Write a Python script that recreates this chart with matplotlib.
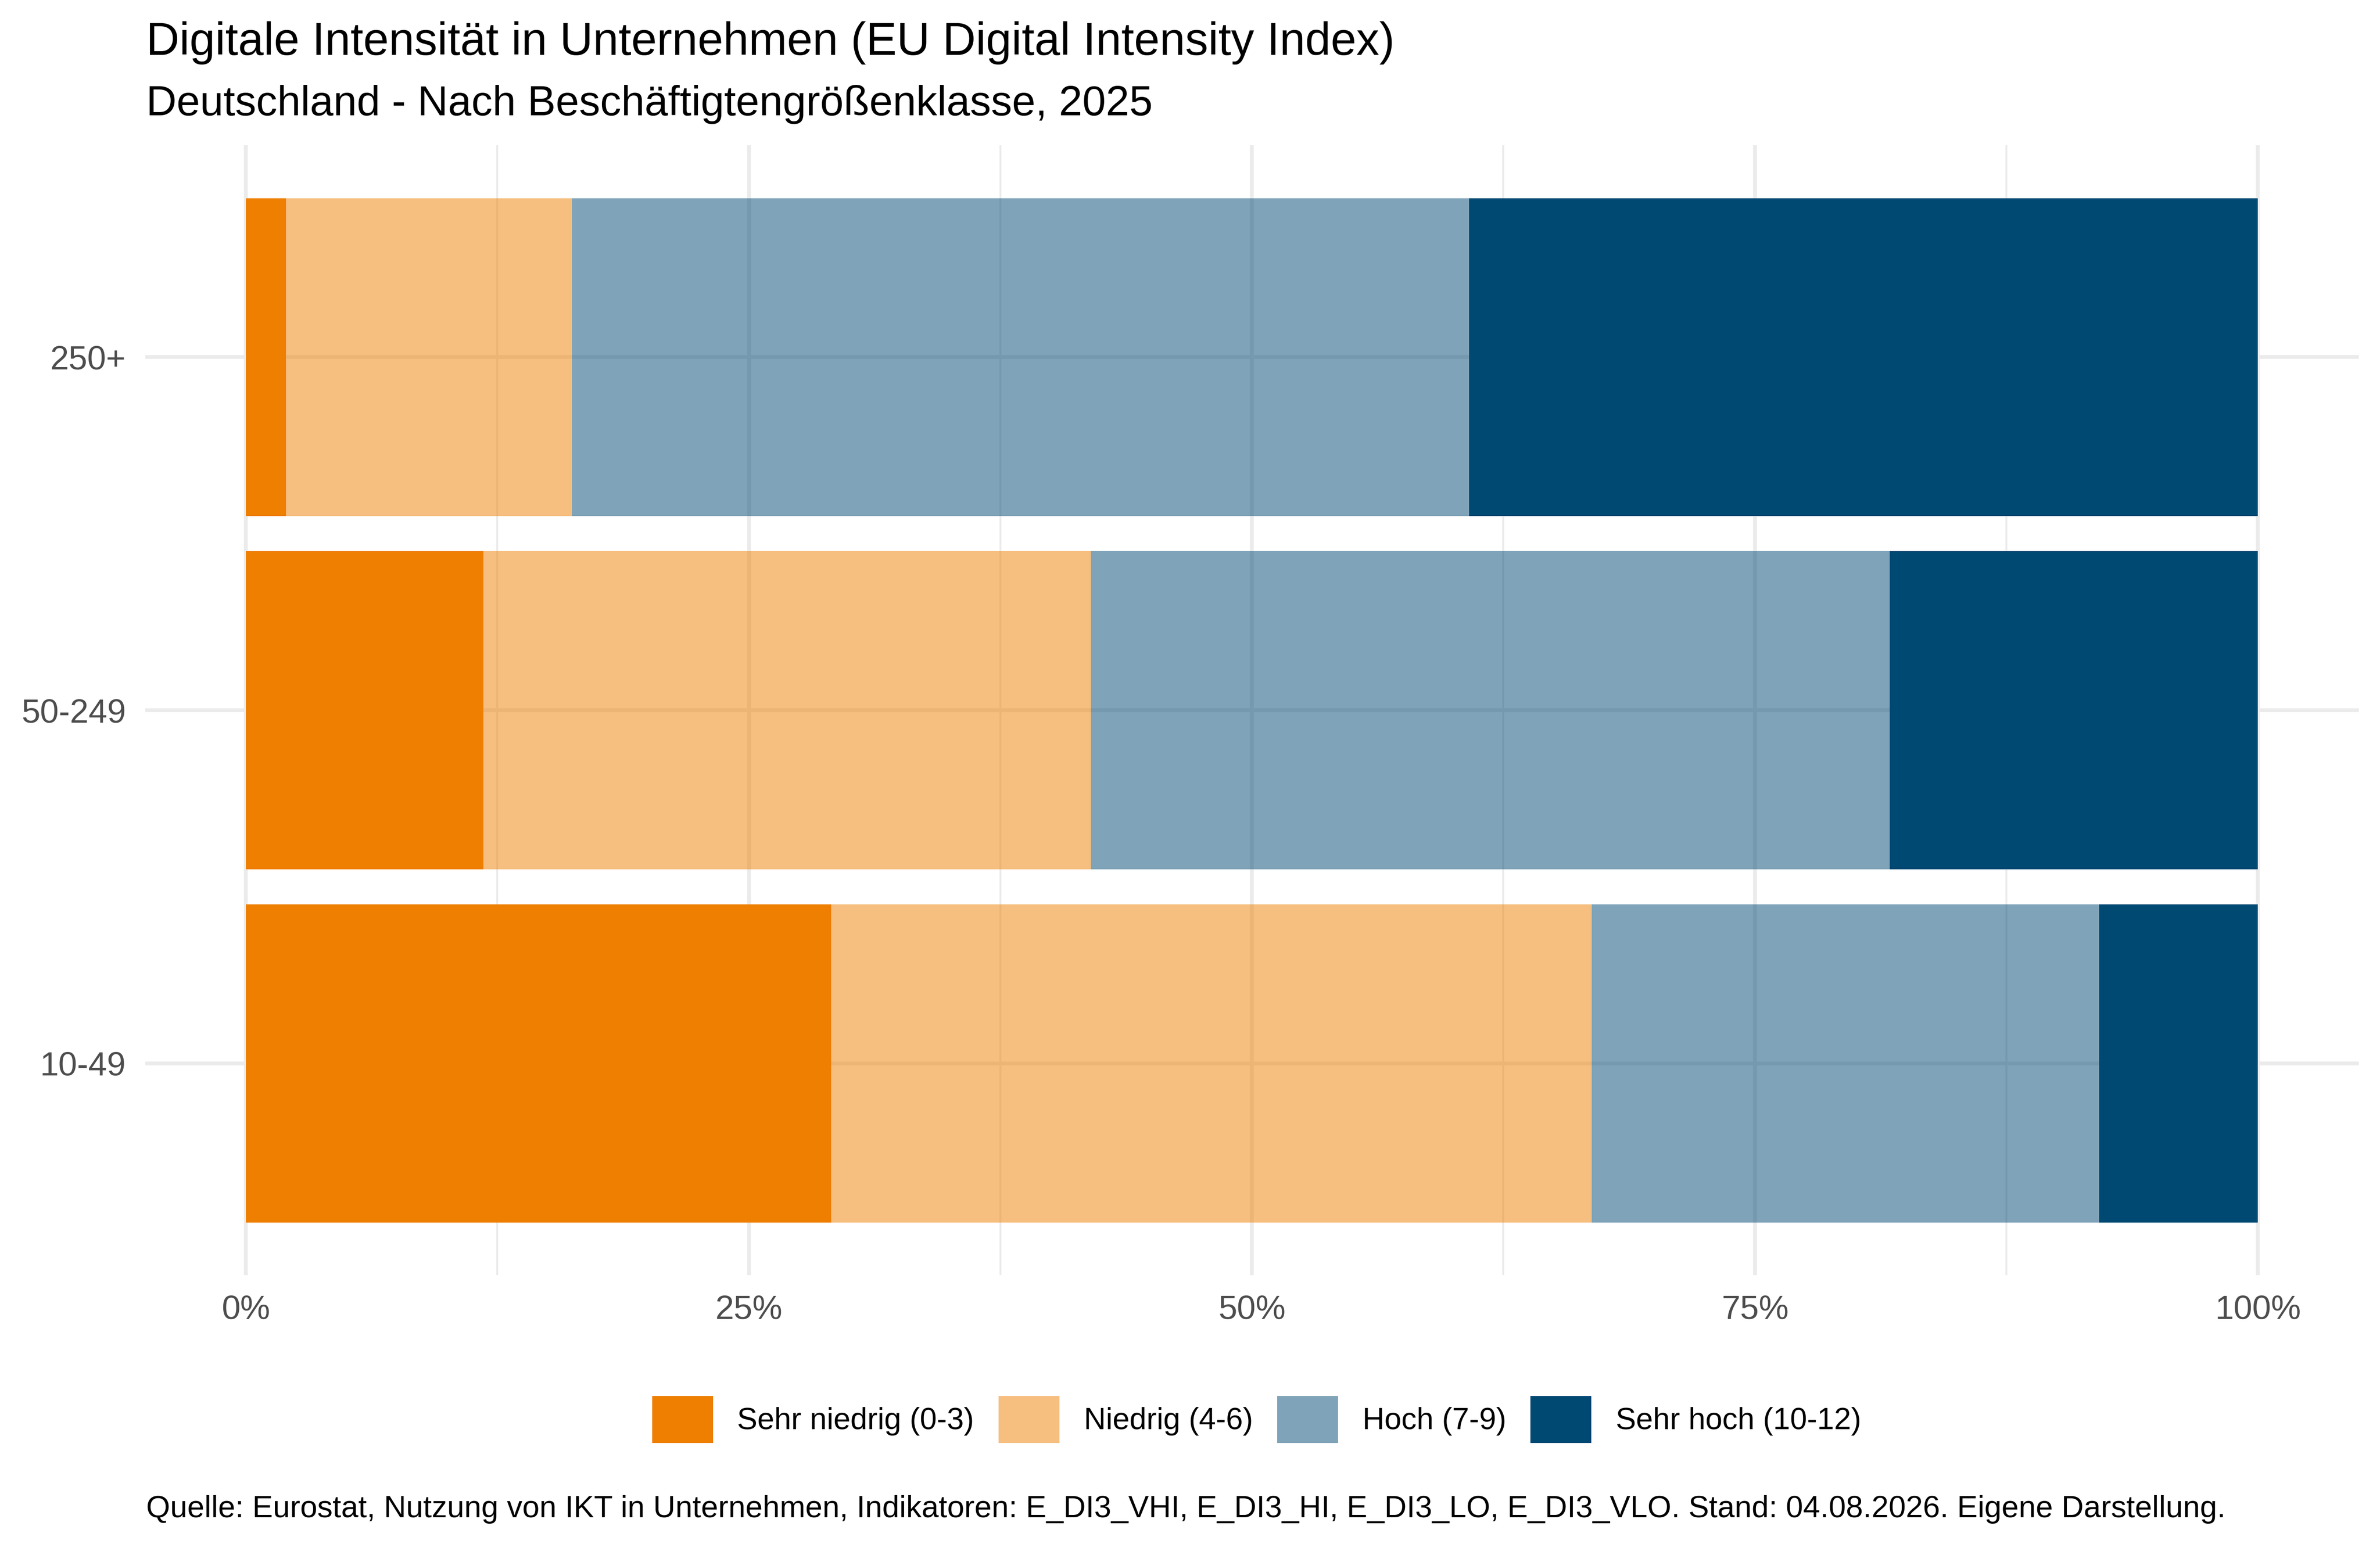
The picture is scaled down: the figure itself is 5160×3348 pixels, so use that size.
import numpy as np
import matplotlib.pyplot as plt
from matplotlib.ticker import PercentFormatter, MultipleLocator

plt.rcParams["font.family"] = ["Liberation Sans", "DejaVu Sans"]

# Data (shares in %)
groups = ["10-49", "50-249", "250+"]
levels = ["Sehr niedrig (0-3)", "Niedrig (4-6)", "Hoch (7-9)", "Sehr hoch (10-12)"]
sehr_niedrig = [29.1, 11.8, 2.0]
niedrig = [37.8, 30.2, 14.2]
hoch = [25.2, 39.7, 44.6]
sehr_hoch = [7.9, 18.3, 39.2]

colors = ["#EE7F00", "#EE7F00", "#004973", "#004973"]
alphas = [1.0, 0.5, 0.5, 1.0]

fig = plt.figure(figsize=(10.32, 6.696), dpi=500)
ax = fig.add_axes([0.0610, 0.174, 0.930, 0.732])

y = np.arange(len(groups))
left = np.zeros(len(groups))
for vals, lab, col, a in zip([sehr_niedrig, niedrig, hoch, sehr_hoch], levels, colors, alphas):
    v = np.array(vals) / 100
    ax.barh(y, v, left=left, height=0.9, color=col, alpha=a, label=lab, linewidth=0, zorder=2)
    left += v

ax.set_xlim(-0.05, 1.05)
ax.set_ylim(-0.6, len(groups) - 0.4)
ax.set_yticks(y)
ax.set_yticklabels(groups)
ax.xaxis.set_major_locator(MultipleLocator(0.25))
ax.xaxis.set_minor_locator(MultipleLocator(0.125))
ax.xaxis.set_major_formatter(PercentFormatter(1.0, decimals=0))

ax.grid(True, which="major", color="#EBEBEB", linewidth=1.2, zorder=0)
ax.grid(True, which="minor", axis="x", color="#EBEBEB", linewidth=0.6, zorder=0)
ax.set_axisbelow(True)
for s in ax.spines.values():
    s.set_visible(False)
ax.tick_params(which="both", length=0, labelsize=10.5, labelcolor="#4D4D4D", pad=6)

fig.text(0.0614, 0.9645, "Digitale Intensität in Unternehmen (EU Digital Intensity Index)",
         fontsize=14.35, va="baseline", ha="left")
fig.text(0.0614, 0.9253, "Deutschland - Nach Beschäftigtengrößenklasse, 2025",
         fontsize=13.15, va="baseline", ha="left")
fig.text(0.0614, 0.0173,
         "Quelle: Eurostat, Nutzung von IKT in Unternehmen, Indikatoren: E_DI3_VHI, E_DI3_HI, "
         "E_DI3_LO, E_DI3_VLO. Stand: 04.08.2026. Eigene Darstellung.",
         fontsize=9.6, va="baseline", ha="left")

fig.legend(loc="center", bbox_to_anchor=(0.528, 0.0806), ncol=4, frameon=False,
           fontsize=9.5, handlelength=2.0, handleheight=2.0, handletextpad=0.8,
           columnspacing=0.8, borderaxespad=0)

fig.savefig("out.png", dpi=500)
